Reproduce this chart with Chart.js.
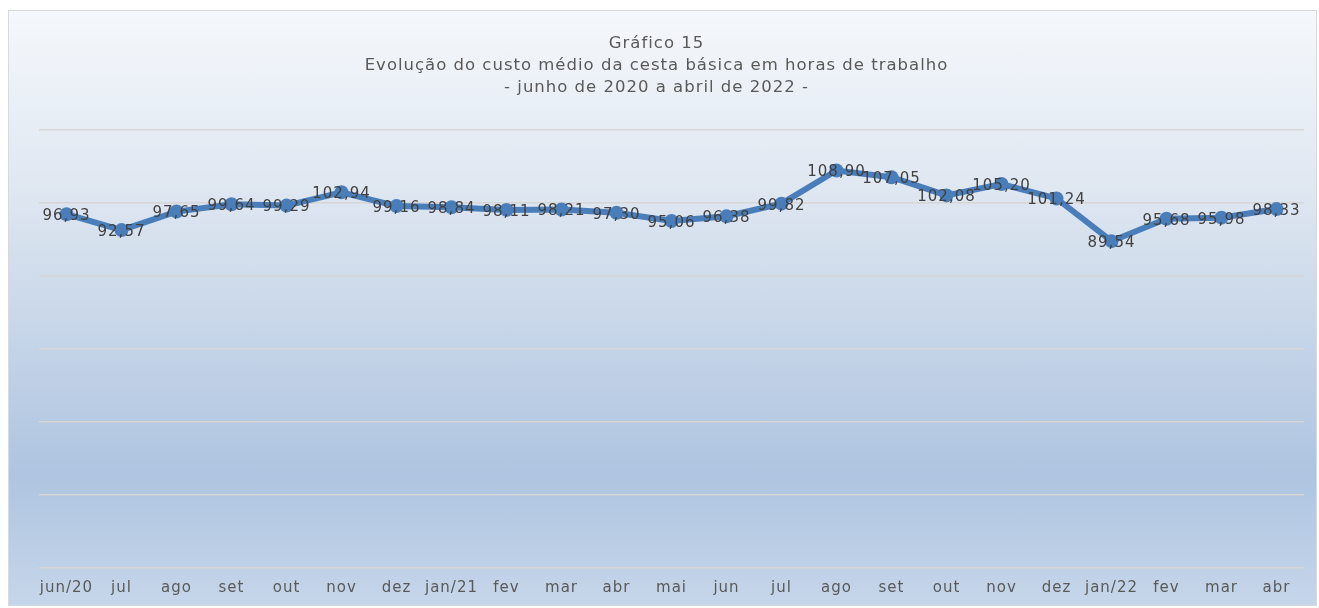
<!DOCTYPE html>
<html>
<head>
<meta charset="utf-8">
<script src="https://cdn.jsdelivr.net/npm/chart.js@4/dist/chart.umd.min.js"></script>
<style>
  body { margin: 0; background: #fff; }
  #frame {
    position: absolute; left: 8px; top: 10px; width: 1307px; height: 594px;
    border: 1px solid #d9d9d9;
    background: linear-gradient(to bottom, #f5f8fc 0%, #dfe7f1 30%, #aec4e0 78%, #c6d6ea 100%);
  }
  #wrap { position: absolute; left: 0; top: 0; width: 1307px; height: 594px; }
</style>
</head>
<body>
<div id="frame"><div id="wrap"><canvas id="grafico"></canvas></div></div>
<script>
'use strict'

var meses = ['jun/20','jul','ago','set','out','nov','dez','jan/21','fev','mar','abr','mai',
             'jun','jul','ago','set','out','nov','dez','jan/22','fev','mar','abr'];
var horas = [96.93, 92.57, 97.65, 99.64, 99.29, 102.94, 99.16, 98.84, 98.11, 98.21, 97.30, 95.06,
             96.38, 99.82, 108.90, 107.05, 102.08, 105.20, 101.24, 89.54, 95.68, 95.98, 98.33];
var titulo = ['Gráfico 15',
              'Evolução do custo médio da cesta básica em horas de trabalho',
              '- junho de 2020 a abril de 2022 -'];

var fonte = 'DejaVu Sans';

// espacamento entre letras, o Excel desenha o texto mais aberto
var espaco = {
  id: 'espaco',
  beforeDraw: function(chart){ chart.ctx.letterSpacing = '1px'; },
  beforeLayout: function(chart){ chart.ctx.letterSpacing = '1px'; }
};

// rotulos no centro de cada ponto, com virgula decimal
var rotulos = {
  id: 'rotulos',
  afterDatasetsDraw: function(chart){
    var ctx = chart.ctx;
    var meta = chart.getDatasetMeta(0);
    ctx.save();
    ctx.letterSpacing = '1px';
    ctx.font = '15px "' + fonte + '"';
    ctx.fillStyle = '#404040';
    ctx.textAlign = 'center';
    ctx.textBaseline = 'middle';
    meta.data.forEach(function(p, i){
      ctx.fillText(horas[i].toFixed(2).replace('.', ','), p.x, p.y + 2);
    });
    ctx.restore();
  }
};

var grafico = new Chart(document.getElementById('grafico'), {
  type: 'line',
  data: {
    labels: meses,
    datasets: [{
      data: horas,
      borderColor: '#4a7ebb',
      backgroundColor: '#4a7ebb',
      borderWidth: 6,
      pointRadius: 7,
      pointHoverRadius: 7,
      pointBorderWidth: 0,
      fill: false,
      tension: 0
    }]
  },
  plugins: [espaco, rotulos],
  options: {
    responsive: true,
    maintainAspectRatio: false,
    animation: false,
    events: [],
    layout: { padding: { left: 0, right: 12, top: 12, bottom: 5 } },
    plugins: {
      legend: { display: false },
      tooltip: { enabled: false },
      title: {
        display: true,
        text: titulo,
        color: '#595959',
        font: { family: fonte, size: 16.5, weight: 'normal', lineHeight: 1.333 },
        padding: { top: 10, bottom: 31 }
      }
    },
    scales: {
      x: {
        offset: true,
        grid: { display: false },
        border: { display: false },
        ticks: {
          color: '#595959',
          font: { family: fonte, size: 15 },
          padding: 3,
          maxRotation: 0,
          autoSkip: false
        }
      },
      y: {
        min: 0,
        max: 120,
        afterFit: function(scale){ scale.width = 30; },
        grid: { color: '#d6d6d6', lineWidth: 1.5, drawTicks: false },
        border: { display: false },
        ticks: { display: false, stepSize: 20 }
      }
    }
  }
});
</script>
</body>
</html>
